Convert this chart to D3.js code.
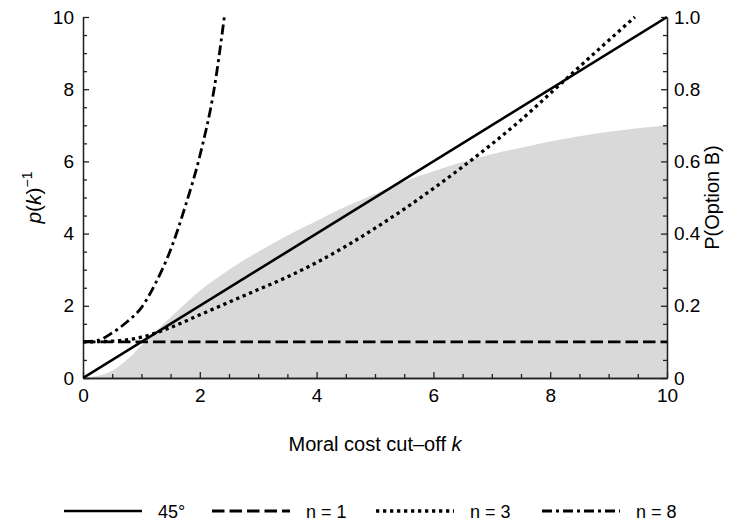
<!DOCTYPE html>
<head>
    <meta charset="utf-8">
    <title>Moral cost cut-off</title>
    <script type="text/javascript" src="https://d3js.org/d3.v7.min.js"></script>
    <style>
        body { margin: 0; background: #fff; }
        text { font-family: "Liberation Sans", Arial, sans-serif; fill: #000; }
        .axis path, .axis line { stroke: #222; stroke-width: 1.3; }
    </style>
</head>
<body>
    <div id="container"></div>

<script>
    //-----------------------------DATA-----------------------------//
    // gray area: P(Option B) against k
    const grayK   = [0, 0.25, 0.5, 0.75, 1, 1.5, 2, 2.5, 3, 3.5, 4, 4.5, 5, 5.5, 6, 6.5, 7, 7.5, 8, 8.5, 9, 9.5, 10];
    const grayP   = [0, 0.006, 0.02, 0.05, 0.09, 0.168, 0.242, 0.3, 0.35, 0.395, 0.435, 0.475, 0.51, 0.545, 0.573, 0.598, 0.62, 0.638, 0.655, 0.67, 0.682, 0.692, 0.70];

    // p(k)^-1 curves
    const lineK45 = [0, 10];
    const line45  = [0, 10];
    const lineKn1 = [0, 10];
    const lineN1  = [1, 1];
    const lineKn3 = [0, 0.5, 1, 1.5, 2, 2.5, 3, 3.5, 4, 4.5, 5, 5.5, 6, 6.5, 7, 7.5, 8, 8.5, 9, 9.45];
    const lineN3  = [1, 1.02, 1.13, 1.4, 1.75, 2.1, 2.45, 2.8, 3.2, 3.65, 4.15, 4.68, 5.25, 5.85, 6.48, 7.15, 7.88, 8.62, 9.35, 10];
    const lineKn8 = [0, 0.25, 0.5, 0.75, 1, 1.25, 1.5, 1.75, 2, 2.25, 2.42];
    const lineN8  = [1, 1.04, 1.25, 1.55, 1.95, 2.65, 3.55, 4.75, 6.15, 8.05, 10];

    const xTicks      = [0, 2, 4, 6, 8, 10];
    const yLeftTicks  = [0, 2, 4, 6, 8, 10];
    const yRightTicks = [0, 0.2, 0.4, 0.6, 0.8, 1.0];
    const yRightLabels = ["0", "0.2", "0.4", "0.6", "0.8", "1.0"];
    const legendLabels = ["45°", "n = 1", "n = 3", "n = 8"];

    //-----------------------------SVG------------------------------//
    const width = 745;
    const height = 524;
    const plot = {left: 83, right: 667, top: 17, bottom: 378};

    const svg = d3.select("div#container").append("svg")
        .attr("width", width)
        .attr("height", height);

    //----------------------------SCALES----------------------------//
    const xScale = d3.scaleLinear().domain([0, 10]).range([plot.left, plot.right]);
    const yLeft  = d3.scaleLinear().domain([0, 10]).range([plot.bottom, plot.top]);
    const yRight = d3.scaleLinear().domain([0, 1]).range([plot.bottom, plot.top]);

    svg.append("clipPath").attr("id", "clip")
        .append("rect")
        .attr("x", plot.left).attr("y", plot.top - 2)
        .attr("width", plot.right - plot.left).attr("height", plot.bottom - plot.top + 2);

    //---------------------------GRAY AREA--------------------------//
    const grayData = grayK.map((k, i) => ({k: k, p: grayP[i]}));
    const area = d3.area()
        .x(d => xScale(d.k))
        .y0(yRight(0))
        .y1(d => yRight(d.p))
        .curve(d3.curveMonotoneX);

    svg.append("path")
        .datum(grayData)
        .attr("d", area)
        .style("fill", "#d9d9d9");

    //-----------------------------AXES-----------------------------//
    const minorX = d3.range(0, 10.01, 0.5).filter(v => v % 2 !== 0);
    const minorY = d3.range(0, 10.01, 0.5).filter(v => v % 2 !== 0);
    const minorR = d3.range(0, 1.001, 0.05).filter((v, i) => i % 4 !== 0);

    function drawAxis(axis, tx, ty) {
        const g = svg.append("g")
            .attr("class", "axis")
            .attr("transform", "translate(" + tx + "," + ty + ")")
            .call(axis);
        g.selectAll("text").style("font-size", "19px");
        return g;
    }

    // bottom
    drawAxis(d3.axisBottom(xScale).tickValues(xTicks).tickSizeInner(-6).tickSizeOuter(0)
        .tickPadding(11).tickFormat(d3.format("d")), 0, plot.bottom);
    drawAxis(d3.axisBottom(xScale).tickValues(minorX).tickSizeInner(-4).tickSizeOuter(0)
        .tickFormat(""), 0, plot.bottom);

    // left
    drawAxis(d3.axisLeft(yLeft).tickValues(yLeftTicks).tickSizeInner(-6).tickSizeOuter(0)
        .tickPadding(9).tickFormat(d3.format("d")), plot.left, 0);
    drawAxis(d3.axisLeft(yLeft).tickValues(minorY).tickSizeInner(-4).tickSizeOuter(0)
        .tickFormat(""), plot.left, 0);

    // right
    drawAxis(d3.axisRight(yRight).tickValues(yRightTicks).tickSizeInner(-6).tickSizeOuter(0)
        .tickPadding(7).tickFormat((d, i) => yRightLabels[i]), plot.right, 0);
    drawAxis(d3.axisRight(yRight).tickValues(minorR).tickSizeInner(-4).tickSizeOuter(0)
        .tickFormat(""), plot.right, 0);

    //----------------------------LINES-----------------------------//
    const line = d3.line()
        .x(d => xScale(d.k))
        .y(d => yLeft(d.v))
        .curve(d3.curveMonotoneX);

    const series = [
        {name: legendLabels[0], k: lineK45, v: line45, dash: null,        w: 2.6},
        {name: legendLabels[1], k: lineKn1, v: lineN1, dash: "12.5,5",    w: 2.8},
        {name: legendLabels[2], k: lineKn3, v: lineN3, dash: "3.3,3.7",   w: 3.3},
        {name: legendLabels[3], k: lineKn8, v: lineN8, dash: "10,4,3,4",  w: 2.8}
    ];

    const lines = svg.append("g").attr("clip-path", "url(#clip)");
    series.forEach(function(s) {
        lines.append("path")
            .datum(s.k.map((k, i) => ({k: k, v: s.v[i]})))
            .attr("d", line)
            .style("fill", "none")
            .style("stroke", "#000")
            .style("stroke-width", s.w)
            .style("stroke-dasharray", s.dash);
    });

    //----------------------------LABELS----------------------------//
    svg.append("text")
        .attr("x", (plot.left + plot.right) / 2)
        .attr("y", 451)
        .attr("text-anchor", "middle")
        .style("font-size", "20px")
        .html('Moral cost cut\u2013off <tspan font-style="italic">k</tspan>');

    svg.append("text")
        .attr("transform", "translate(41," + ((plot.top + plot.bottom) / 2) + ") rotate(-90)")
        .attr("text-anchor", "middle")
        .style("font-size", "21px")
        .html('<tspan font-style="italic">p</tspan>(<tspan font-style="italic">k</tspan>)' +
              '<tspan dy="-9" font-size="14px">\u22121</tspan>');

    svg.append("text")
        .attr("transform", "translate(719," + ((plot.top + plot.bottom) / 2) + ") rotate(-90)")
        .attr("text-anchor", "middle")
        .style("font-size", "20px")
        .text("P(Option B)");

    //----------------------------LEGEND----------------------------//
    const legendX = [64, 212, 376, 542];
    const legendLen = 78;
    const legendY = 511;
    const legend = svg.append("g");
    series.forEach(function(s, i) {
        legend.append("line")
            .attr("x1", legendX[i]).attr("x2", legendX[i] + legendLen)
            .attr("y1", legendY).attr("y2", legendY)
            .style("stroke", "#000")
            .style("stroke-width", s.w)
            .style("stroke-dasharray", s.dash);
        legend.append("text")
            .attr("x", legendX[i] + legendLen + 16)
            .attr("y", legendY + 7)
            .style("font-size", "18px")
            .text(s.name);
    });
</script>
</body>
